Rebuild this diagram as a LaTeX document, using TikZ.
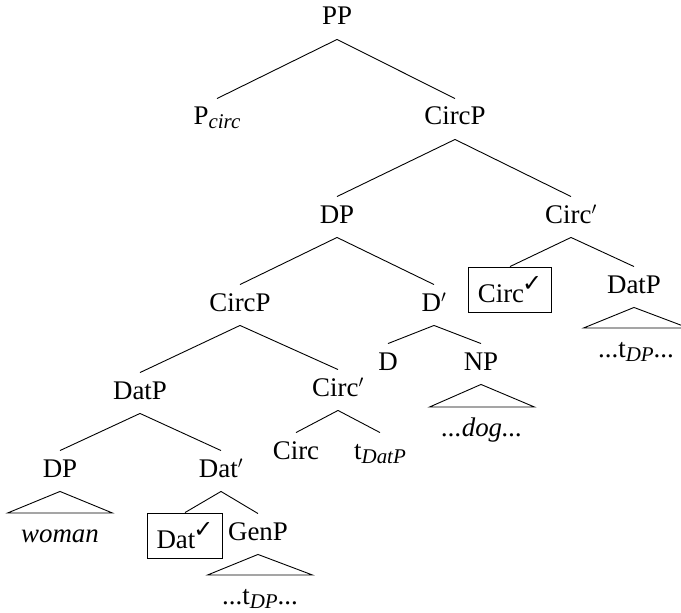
\documentclass[tikz,border=0pt]{standalone}
\usepackage{fontspec}
\setmainfont{Liberation Serif}
\newfontfamily\symfont{DejaVu Sans}
\newcommand{\subtxt}[1]{\raisebox{-4bp}{\fontsize{21}{24}\selectfont\itshape #1}}
\newcommand{\chk}{\kern-2bp\raisebox{11bp}{\fontsize{24}{24}\selectfont\symfont ✓}}
\newcommand{\treenode}[5][cat] {
    \node[#1,anchor=base] (#2) at ({#3}, {#4}) {#5};
}
\newcommand{\roof}[4] {
    \node[leaf,anchor=north] (#1) at ({#2}, {#3}) {#4};
}

\begin{document}
\begin{tikzpicture}[
    x=1bp, y=-1bp,
    font=\fontsize{27}{32}\selectfont,
    line width=0.9bp,
    cat/.style={text height=17bp, text depth=5bp, inner sep=9bp},
    boxed/.style={draw, text height=26bp, text depth=1bp, inner xsep=9bp, inner ysep=9bp},
    leaf/.style={minimum width=104bp, text height=17bp, text depth=5bp, inner xsep=0bp, inner ysep=12bp}
]
    \useasboundingbox (0,0) rectangle (681,613);
    \treenode{pp}{337}{25}{PP}
    \treenode{pcirc}{217}{125}{P\subtxt{circ}}
    \treenode{circpa}{455}{125}{CircP}
    \treenode{dpa}{337}{223}{DP}
    \treenode{circbara}{571}{223}{Circ$'$}
    \treenode{circpb}{240}{311}{CircP}
    \treenode{dbar}{434}{311}{D$'$}
    \treenode[boxed]{circhead}{510}{302}{Circ\chk}
    \treenode{datpa}{634}{293}{DatP}
    \treenode{d}{388}{370}{D}
    \treenode{np}{481}{370}{NP}
    \treenode{datpb}{140}{399}{DatP}
    \treenode{circbarb}{338}{396}{Circ$'$}
    \treenode{circ}{296}{459}{Circ}
    \treenode{tdatp}{380}{459}{t\subtxt{DatP}}
    \treenode{dpb}{60}{477}{DP}
    \treenode{datbar}{221}{477}{Dat$'$}
    \treenode[boxed]{dathead}{185}{548}{Dat\chk}
    \treenode{genp}{258}{540}{GenP}
    \roof{woman}{60}{513}{\textit{woman}}
    \roof{dog}{482}{407}{\textit{...dog...}}
    \roof{tdpa}{260}{575}{...t\subtxt{DP}...}
    \roof{tdpb}{636}{328}{...t\subtxt{DP}...}
    \foreach \mother/\daughter in {pp/pcirc, pp/circpa, circpa/dpa, circpa/circbara,
        dpa/circpb, dpa/dbar, circbara/circhead, circbara/datpa, dbar/d, dbar/np,
        circpb/datpb, circpb/circbarb, circbarb/circ, circbarb/tdatp,
        datpb/dpb, datpb/datbar, datbar/dathead, datbar/genp}
        \draw (\mother.south) -- (\daughter.north);
    \foreach \mother/\daughter in {dpb/woman, np/dog, genp/tdpa, datpa/tdpb}
        \draw (\mother.south) -- (\daughter.north west) -- (\daughter.north east) -- cycle;
\end{tikzpicture}
\end{document}
